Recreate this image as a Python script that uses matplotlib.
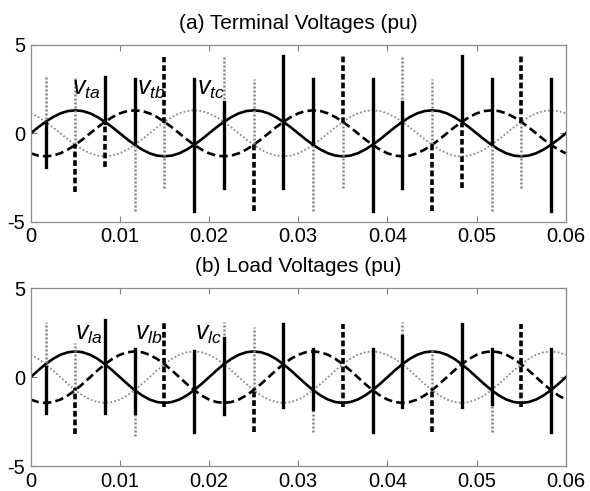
import numpy as np
import matplotlib
matplotlib.use("Agg")
import matplotlib.pyplot as plt

plt.rcParams['font.family'] = ['Liberation Sans', 'DejaVu Sans']
plt.rcParams['axes.unicode_minus'] = False
plt.rcParams['mathtext.fontset'] = 'custom'
plt.rcParams['mathtext.it'] = 'Liberation Sans:italic'
plt.rcParams['mathtext.rm'] = 'Liberation Sans'

# ---------------- data ----------------
t_end = 0.06
top_cycle_a = [0.00, 0.34, 0.65, 0.92, 1.13, 1.26, 1.30, 1.26, 1.13, 0.92, 0.65, 0.34,
               0.00, -0.34, -0.65, -0.92, -1.13, -1.26, -1.30, -1.26, -1.13, -0.92, -0.65, -0.34]
bot_cycle_a = [0.00, 0.38, 0.73, 1.03, 1.26, 1.40, 1.45, 1.40, 1.26, 1.03, 0.73, 0.38,
               0.00, -0.38, -0.73, -1.03, -1.26, -1.40, -1.45, -1.40, -1.26, -1.03, -0.73, -0.38]
n_cycles = 3
phase_shift_samples = 8  # 120 degrees

# switching spikes: time, phase, low, high
top_spike_t = [0.00167, 0.00167, 0.005, 0.005, 0.00833, 0.00833, 0.01167, 0.01167,
               0.015, 0.015, 0.01833, 0.02167, 0.02167, 0.025, 0.025, 0.02833,
               0.03167, 0.03167, 0.035, 0.035, 0.03833, 0.04167, 0.04167, 0.045, 0.045,
               0.04833, 0.04833, 0.05167, 0.05167, 0.055, 0.055, 0.05833]
top_spike_phase = ['c', 'a', 'c', 'b', 'a', 'b', 'a', 'c',
                   'b', 'c', 'a', 'c', 'a', 'c', 'b', 'a',
                   'a', 'c', 'b', 'c', 'a', 'c', 'a', 'c', 'b',
                   'a', 'b', 'a', 'c', 'b', 'c', 'a']
top_spike_lo = [0.6, -1.9, -0.6, -3.3, 0.6, -1.9, -0.6, -4.4,
                0.6, -3.1, -4.4, 0.6, -3.1, -0.6, -4.4, -3.1,
                -0.6, -4.4, 0.6, -3.1, -4.4, 0.6, -3.1, -0.6, -4.4,
                0.6, -3.1, -0.6, -4.4, 0.6, -3.1, -4.4]
top_spike_hi = [3.2, 0.6, 3.2, -0.6, 3.2, 0.6, 3.1, -0.6,
                4.3, 0.6, 3.1, 4.4, 1.8, 3.1, -0.6, 4.4,
                3.1, -0.6, 4.5, 0.6, 3.1, 4.4, 1.8, 3.1, -0.6,
                4.4, 0.6, 3.1, -0.6, 4.4, 0.6, 3.1]

bot_spike_t = [0.00167, 0.00167, 0.005, 0.005, 0.00833, 0.01167, 0.01167, 0.015,
               0.01833, 0.02167, 0.02167, 0.025, 0.025, 0.02833, 0.03167, 0.03167,
               0.035, 0.03833, 0.04167, 0.04167, 0.045, 0.045, 0.04833, 0.05167, 0.05167,
               0.055, 0.05833]
bot_spike_phase = ['c', 'a', 'c', 'b', 'a', 'a', 'c', 'b',
                   'a', 'c', 'a', 'c', 'b', 'a', 'a', 'c',
                   'b', 'a', 'c', 'a', 'c', 'b', 'a', 'a', 'c',
                   'b', 'a']
bot_spike_lo = [0.6, -2.0, -0.6, -3.2, -2.0, -2.0, -3.3, -1.7,
                -3.1, 0.8, -2.1, -0.6, -3.1, -1.7, -1.8, -3.1,
                -1.7, -3.1, 0.8, -1.7, -0.6, -3.1, -1.7, -1.5, -3.1,
                -1.7, -3.1]
bot_spike_hi = [3.1, 0.6, 1.9, -0.6, 3.2, 1.6, -2.0, 3.1,
                1.5, 3.1, 2.2, 2.8, -0.6, 3.0, 1.6, -1.8,
                3.0, 1.6, 3.1, 2.3, 1.6, -0.6, 3.0, 1.6, -1.5,
                3.0, 1.6]

top_labels = [r'$v_{ta}$', r'$v_{tb}$', r'$v_{tc}$']
top_label_x = [0.0046, 0.0119, 0.0187]
top_label_y = [2.17, 2.17, 2.17]
bot_labels = [r'$v_{la}$', r'$v_{lb}$', r'$v_{lc}$']
bot_label_x = [0.0050, 0.0117, 0.0184]
bot_label_y = [2.09, 2.09, 2.09]

titles = ['(a) Terminal Voltages (pu)', '(b) Load Voltages (pu)']
xticks = [0, 0.01, 0.02, 0.03, 0.04, 0.05, 0.06]
xticklabels = ['0', '0.01', '0.02', '0.03', '0.04', '0.05', '0.06']
yticks = [-5, 0, 5]
yticklabels = ['-5', '0', '5']

# ---------------- styles ----------------
line_style = {
    'a': dict(color='black', lw=1.9, ls='-'),
    'b': dict(color='black', lw=1.9, ls=(0, (3.2, 1.6))),
    'c': dict(color='0.55', lw=1.3, ls=(0, (1, 1.2))),
}
spike_style = {
    'a': dict(color='black', lw=2.4, ls='-'),
    'b': dict(color='black', lw=2.6, ls=(0, (1.6, 0.8))),
    'c': dict(color='0.5', lw=1.8, ls=(0, (0.8, 0.8))),
}

fig = plt.figure(figsize=(5.9, 4.91), dpi=100)
axes = [fig.add_axes([0.052, 0.5485, 0.907, 0.3599]),
        fig.add_axes([0.052, 0.0509, 0.907, 0.3619])]

panels = [
    (top_cycle_a, top_spike_t, top_spike_phase, top_spike_lo, top_spike_hi,
     top_labels, top_label_x, top_label_y),
    (bot_cycle_a, bot_spike_t, bot_spike_phase, bot_spike_lo, bot_spike_hi,
     bot_labels, bot_label_x, bot_label_y),
]

for ax, (cyc, st, sp, slo, shi, labs, lx, ly) in zip(axes, panels):
    cyc = np.array(cyc)
    waves = {
        'a': cyc,
        'b': np.roll(cyc, phase_shift_samples),
        'c': np.roll(cyc, -phase_shift_samples),
    }
    n = len(cyc) * n_cycles + 1
    t = np.linspace(0, t_end, n)
    for ph in ['c', 'b', 'a']:
        y = np.concatenate([np.tile(waves[ph], n_cycles), waves[ph][:1]])
        ax.plot(t, y, **line_style[ph], zorder=2)
    for ti, ph, lo, hi in zip(st, sp, slo, shi):
        ax.plot([ti, ti], [lo, hi], **spike_style[ph], zorder=3 if ph != 'c' else 2.5)
    for s, x, y in zip(labs, lx, ly):
        ax.text(x, y, s, fontsize=18, ha='left', va='baseline', zorder=5)
    ax.set_xlim(0, t_end)
    ax.set_ylim(-5, 5)
    ax.set_xticks(xticks)
    ax.set_xticklabels(xticklabels)
    ax.set_yticks(yticks)
    ax.set_yticklabels(yticklabels)
    ax.tick_params(direction='in', length=4, width=0.8, color='0.5',
                   top=True, right=True, labelsize=14.5, pad=4)
    for sp_ in ax.spines.values():
        sp_.set_color('0.55')
        sp_.set_linewidth(0.9)

fig.text(0.505, 0.953, titles[0], ha='center', va='center', fontsize=15)
fig.text(0.505, 0.458, titles[1], ha='center', va='center', fontsize=15)

fig.savefig('out.png', dpi=100)
